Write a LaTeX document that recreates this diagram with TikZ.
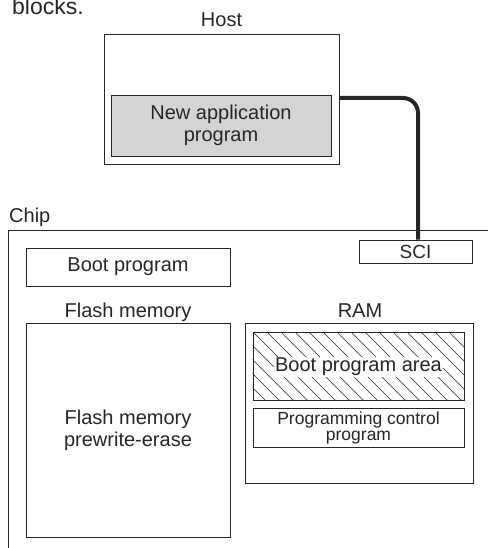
\documentclass[tikz,border=0pt]{standalone}
\usepackage{fontspec}
\setmainfont{Liberation Sans}
\definecolor{ink}{HTML}{262626}
\definecolor{fillg}{HTML}{D4D4D6}
\begin{document}
\begin{tikzpicture}[x=1pt,y=-1pt,
  every node/.style={text=ink, font=\fontsize{20}{22}\selectfont},
  box/.style={draw=ink, line width=0.9pt, inner sep=0pt, align=center},
  lbl/.style={inner sep=0pt}]
\useasboundingbox (0,0) rectangle (487,548);
% cropped caption text
\node[lbl, anchor=base west, font=\fontsize{23}{25}\selectfont] (cap) at (12,15) {blocks.};
% host
\node[lbl, anchor=base] (hostlbl) at (221.5,27) {Host};
\node[box, minimum width=235pt, minimum height=130pt] (host) at (221.5,99) {};
\node[box, fill=fillg, minimum width=220pt, minimum height=61pt] (app) at (221,125.5) {New application\\program};
% chip
\node[lbl, anchor=base west] (chiplbl) at (9,222) {Chip};
\coordinate (chipR) at (490,230);
\coordinate (chipTL) at (8,230);
\coordinate (chipB) at (8,550);
\draw[ink, line width=0.9pt] (chipR) -- (chipTL) -- (chipB);
\node[box, fill=white, minimum width=113pt, minimum height=23pt, font=\fontsize{19}{21}\selectfont] (sci) at (415.5,251.5) {SCI};
% cable
\coordinate (c0) at (339,98);
\draw[ink, line width=4pt, rounded corners=15pt] (c0) -| ([xshift=2.5pt]sci.north);
% boot program
\node[box, minimum width=204pt, minimum height=38pt] (boot) at (128,267) {Boot program};
% flash
\node[lbl, anchor=base] (flashlbl) at (128,317) {Flash memory};
\node[box, minimum width=204pt, minimum height=214pt] (flash) at (128,430) {Flash memory\\prewrite-erase};
% RAM
\node[lbl, anchor=base] (ramlbl) at (360,317) {RAM};
\node[box, minimum width=228pt, minimum height=160pt] (ram) at (359,403) {};
\node[box, minimum width=211pt, minimum height=68pt] (hatch) at (358.5,366) {};
\begin{scope}
  \clip (hatch.south west) rectangle (hatch.north east);
  \foreach \i in {-84,-70,...,224} \draw[ink, line width=0.5pt] (253+\i,332) -- ++(70,70);
\end{scope}
\node[box, minimum width=211pt, minimum height=68pt] at (358.5,366) {};
\node[fill=white, inner sep=1pt] (bpa) at (358.5,367) {Boot program area};
\node[box, minimum width=211pt, minimum height=39pt, font=\fontsize{17.5}{16}\selectfont] (pcp) at (358.5,427.5) {Programming control\\program};
\end{tikzpicture}
\end{document}
